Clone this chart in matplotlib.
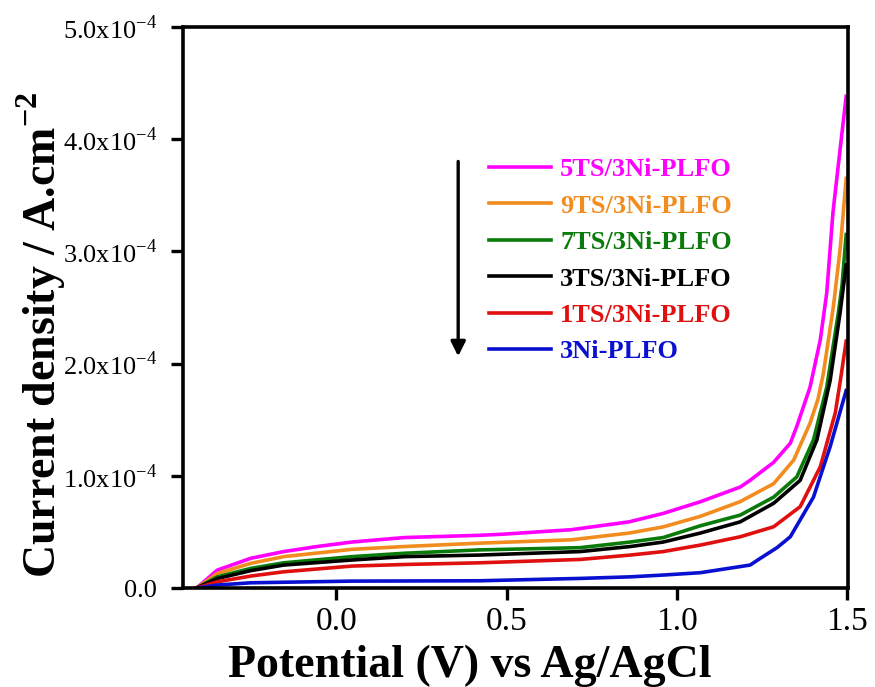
import matplotlib
matplotlib.use('Agg')
import matplotlib.pyplot as plt

plt.rcParams['font.family'] = 'Liberation Serif'
plt.rcParams['mathtext.fontset'] = 'custom'
plt.rcParams['mathtext.rm'] = 'Liberation Serif'
plt.rcParams['mathtext.bf'] = 'Liberation Serif:bold'

# LSV curves, potential (V vs Ag/AgCl) and current density (x1e-4 A/cm2)
v_5ts = [-0.41, -0.349, -0.251, -0.154, -0.056, 0.046, 0.2, 0.42, 0.49, 0.69, 0.86, 0.96,
         1.07, 1.186, 1.215, 1.284, 1.333, 1.352, 1.391, 1.421, 1.44, 1.458, 1.48, 1.497]
j_5ts = [0.0, 0.16, 0.265, 0.325, 0.37, 0.41, 0.45, 0.47, 0.48, 0.52, 0.59, 0.665,
         0.77, 0.90, 0.96, 1.12, 1.29, 1.44, 1.79, 2.21, 2.63, 3.34, 3.93, 4.38]

v_9ts = [-0.41, -0.349, -0.251, -0.154, 0.046, 0.2, 0.42, 0.69, 0.86, 0.96, 1.07, 1.186,
         1.284, 1.343, 1.391, 1.414, 1.43, 1.46, 1.48, 1.497]
j_9ts = [0.0, 0.13, 0.22, 0.28, 0.345, 0.37, 0.40, 0.43, 0.49, 0.545, 0.64, 0.77,
         0.93, 1.14, 1.47, 1.68, 1.91, 2.52, 3.04, 3.65]

v_7ts = [-0.41, -0.349, -0.251, -0.154, 0.046, 0.2, 0.42, 0.716, 0.863, 0.96, 1.069, 1.186,
         1.284, 1.352, 1.401, 1.44, 1.474, 1.485, 1.497]
j_7ts = [0.0, 0.10, 0.175, 0.225, 0.28, 0.31, 0.34, 0.36, 0.41, 0.45, 0.555, 0.65,
         0.81, 0.99, 1.32, 1.79, 2.45, 2.70, 3.15]

v_3ts = [-0.41, -0.349, -0.251, -0.154, 0.046, 0.2, 0.42, 0.716, 0.863, 0.96, 1.069, 1.186,
         1.284, 1.362, 1.411, 1.45, 1.479, 1.497]
j_3ts = [0.0, 0.085, 0.155, 0.205, 0.25, 0.28, 0.294, 0.325, 0.37, 0.41, 0.49, 0.59,
         0.755, 0.96, 1.32, 1.85, 2.45, 2.88]

v_1ts = [-0.41, -0.349, -0.251, -0.154, 0.046, 0.2, 0.42, 0.716, 0.863, 0.96, 1.069, 1.186,
         1.284, 1.362, 1.421, 1.465, 1.48, 1.497]
j_1ts = [0.0, 0.056, 0.107, 0.145, 0.196, 0.21, 0.225, 0.255, 0.294, 0.325, 0.383, 0.457,
         0.546, 0.725, 1.08, 1.56, 1.85, 2.20]

v_3ni = [-0.41, -0.349, -0.251, 0.046, 0.42, 0.716, 0.863, 0.96, 1.069, 1.215, 1.245,
         1.294, 1.333, 1.401, 1.45, 1.497]
j_3ni = [0.0, 0.027, 0.047, 0.062, 0.065, 0.086, 0.10, 0.116, 0.137, 0.205, 0.265,
         0.36, 0.457, 0.81, 1.26, 1.76]

labels = ['5TS/3Ni-PLFO', '9TS/3Ni-PLFO', '7TS/3Ni-PLFO', '3TS/3Ni-PLFO',
          '1TS/3Ni-PLFO', '3Ni-PLFO']
colors = ['#ff00ff', '#f28c1e', '#0a7a0a', '#000000', '#e01010', '#0a10d0']

xticks = [0.0, 0.5, 1.0, 1.5]
yticks = [0.0, 1e-4, 2e-4, 3e-4, 4e-4, 5e-4]
ytick_labels = ['0.0'] + [r'%d.0x10$^{\mathregular{-4}}$' % i for i in range(1, 6)]

fig = plt.figure(figsize=(8.75, 6.87), dpi=100)
ax = fig.add_axes([0.209, 0.144, 0.760, 0.817])

series = [(v_5ts, j_5ts), (v_9ts, j_9ts), (v_7ts, j_7ts), (v_3ts, j_3ts),
          (v_1ts, j_1ts), (v_3ni, j_3ni)]
for (v, j), lab, c in zip(series, labels, colors):
    ax.plot(v, [x * 1e-4 for x in j], color=c, lw=2.6, label=lab,
            solid_joinstyle='round')

ax.set_xlim(-0.45, 1.502)
ax.set_ylim(0, 5e-4)
ax.set_xticks(xticks)
ax.set_xticklabels(['%.1f' % x for x in xticks])
ax.set_yticks(yticks)
ax.set_yticklabels(ytick_labels)
ax.tick_params(direction='out', length=8.5, width=2.4)
ax.tick_params(axis='x', labelsize=24, pad=5)
ax.tick_params(axis='y', labelsize=19, pad=10)
for s in ax.spines.values():
    s.set_linewidth(2.6)

ax.set_xlabel('Potential (V) vs Ag/AgCl', fontsize=33, fontweight='bold')
ax.set_ylabel(r'Current density / A.cm$^{\mathbf{-2}}$', fontsize=33,
              fontweight='bold')
ax.xaxis.set_label_coords(0.4316, -0.10)
ax.yaxis.set_label_coords(-0.172, 0.451)

leg = ax.legend(loc='upper left', bbox_to_anchor=(0.4406, 0.79), frameon=False,
                labelcolor='linecolor', prop={'weight': 'bold', 'size': 19},
                handlelength=2.35, handletextpad=0.34, labelspacing=0.49, borderpad=0)

# downward arrow beside the legend
ax.annotate('', xy=(0.414, 0.408), xytext=(0.414, 0.765), xycoords='axes fraction',
            arrowprops=dict(arrowstyle='-|>', color='black', lw=2.4,
                            mutation_scale=22))

fig.savefig('out.png', dpi=100)
